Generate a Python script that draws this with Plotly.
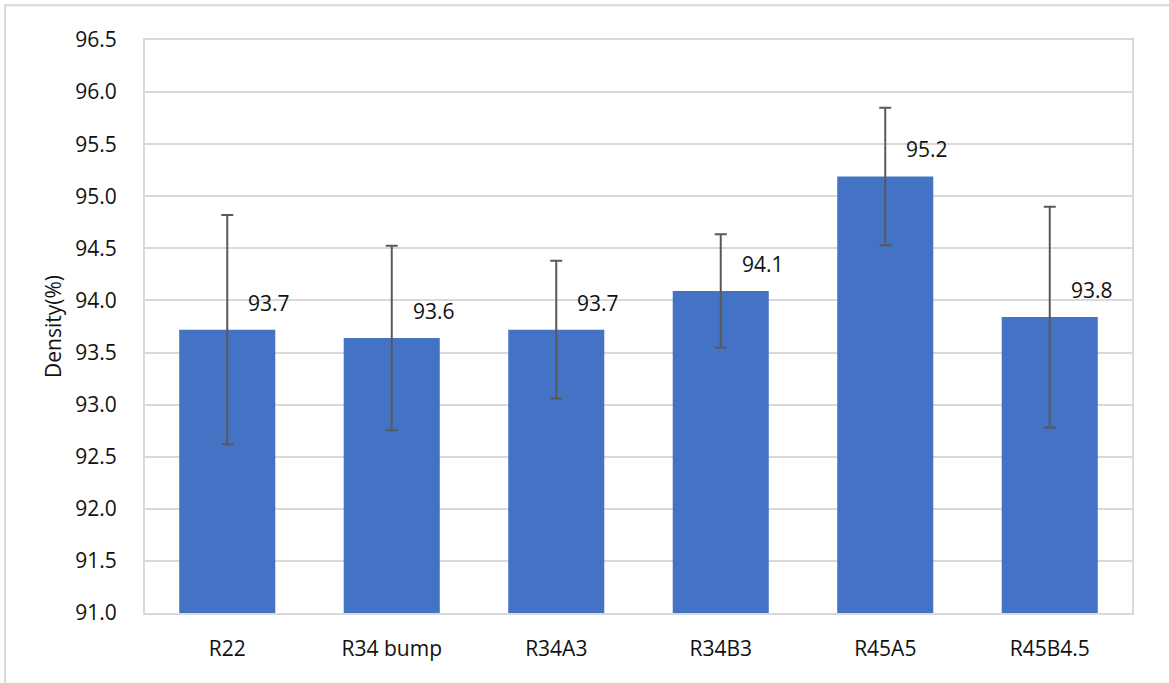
import plotly.graph_objects as go

categories = ["R22", "R34 bump", "R34A3", "R34B3", "R45A5", "R45B4.5"]
density = [93.72, 93.64, 93.72, 94.09, 95.19, 93.84]
errors = [1.10, 0.885, 0.66, 0.545, 0.66, 1.06]
labels = ["93.7", "93.6", "93.7", "94.1", "95.2", "93.8"]
y_ticks = [91.0, 91.5, 92.0, 92.5, 93.0, 93.5, 94.0, 94.5, 95.0, 95.5, 96.0, 96.5]

FONT = "Open Sans"
FS = 21
TXT = "#111111"
GRID = "#D9D9D9"

fig = go.Figure()
fig.add_trace(go.Bar(
    x=categories, y=density,
    marker=dict(color="#4472C4", line=dict(width=0)),
    error_y=dict(type="data", array=errors, visible=True,
                 color="#595959", thickness=2, width=6),
))

for c, v, t in zip(categories, density, labels):
    fig.add_annotation(x=c, y=v, text=t, showarrow=False,
                       xshift=42, yshift=27,
                       font=dict(family=FONT, size=FS, color=TXT))

# outer chart frame (only left/top visible in reference)
fig.add_shape(type="rect", xref="paper", yref="paper",
              x0=-0.1418, x1=1.2, y0=-0.3, y1=1.0607,
              line=dict(color=GRID, width=2), fillcolor="rgba(0,0,0,0)", layer="below")

fig.update_layout(
    width=1169, height=683,
    margin=dict(l=145, r=37, t=40, b=70),
    paper_bgcolor="white", plot_bgcolor="white",
    bargap=0.416,
    showlegend=False,
    font=dict(family=FONT, size=FS, color=TXT),
    xaxis=dict(showgrid=False, showline=True, linecolor=GRID, linewidth=2,
               mirror=True, ticks="", ticklabelstandoff=16,
               tickfont=dict(family=FONT, size=FS, color=TXT)),
    yaxis=dict(range=[91, 96.5], tickvals=y_ticks,
               ticktext=[f"{v:.1f}" for v in y_ticks],
               showgrid=True, gridcolor=GRID, gridwidth=2,
               showline=True, linecolor=GRID, linewidth=2, mirror=True,
               zeroline=False, ticks="", ticklabelstandoff=22,
               title=dict(text="Density(%)", standoff=8,
                          font=dict(family=FONT, size=FS, color=TXT)),
               tickfont=dict(family=FONT, size=FS, color=TXT)),
)

fig.write_html("out.html", config={"displayModeBar": False},
               post_script="document.body.style.margin='0';")
